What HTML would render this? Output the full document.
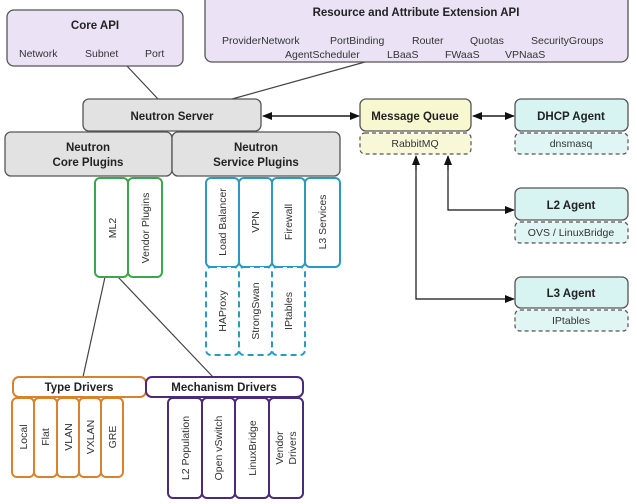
<!DOCTYPE html>
<html><head><style>
body{margin:0;background:#fff;}
svg{display:block;font-family:"Liberation Sans",Arial,sans-serif;}
.b{font-weight:bold;font-size:11.5px;fill:#222;}
.t{font-size:10.5px;fill:#333;}
.v{font-size:10.5px;fill:#333;}
</style></head><body>
<svg width="637" height="504" viewBox="0 0 637 504">
<defs><marker id="a" markerWidth="10" markerHeight="8" refX="9" refY="4" orient="auto" markerUnits="userSpaceOnUse"><path d="M0,0 L10,4 L0,8 z" fill="#111"/></marker></defs>
<!-- connectors -->
<line x1="127" y1="66" x2="158" y2="99" stroke="#444" stroke-width="1.2"/>
<line x1="365" y1="62" x2="232" y2="99" stroke="#444" stroke-width="1.2"/>
<line x1="105" y1="277" x2="83" y2="377" stroke="#444" stroke-width="1.2"/>
<line x1="118" y1="277" x2="213" y2="377" stroke="#444" stroke-width="1.2"/>
<line x1="272" y1="116" x2="359" y2="116" stroke="#111" stroke-width="1.2" marker-end="url(#a)"/>
<line x1="350" y1="116" x2="263" y2="116" stroke="#111" stroke-width="1.2" marker-end="url(#a)"/>
<line x1="480" y1="116" x2="514" y2="116" stroke="#111" stroke-width="1.2" marker-end="url(#a)"/>
<line x1="505" y1="116" x2="473" y2="116" stroke="#111" stroke-width="1.2" marker-end="url(#a)"/>
<polyline points="448,165 448,210 514,210" fill="none" stroke="#111" stroke-width="1.2" marker-end="url(#a)"/>
<line x1="448" y1="170" x2="448" y2="156" stroke="#111" stroke-width="1.2" marker-end="url(#a)"/>
<polyline points="416,165 416,299 514,299" fill="none" stroke="#111" stroke-width="1.2" marker-end="url(#a)"/>
<line x1="416" y1="170" x2="416" y2="156" stroke="#111" stroke-width="1.2" marker-end="url(#a)"/>
<!-- Core API -->
<rect x="7" y="10" width="176" height="56" rx="7" fill="#ebe3f5" stroke="#555" stroke-width="1.3"/>
<text x="95" y="29" class="b" text-anchor="middle">Core API</text>
<text x="19" y="57" class="t">Network</text><text x="85" y="57" class="t">Subnet</text><text x="145" y="57" class="t">Port</text>
<!-- Resource -->
<rect x="205" y="-6" width="423" height="68" rx="7" fill="#ebe3f5" stroke="#555" stroke-width="1.3"/>
<text x="416" y="16" class="b" text-anchor="middle">Resource and Attribute Extension API</text>
<text x="222" y="44" class="t">ProviderNetwork</text><text x="330" y="44" class="t">PortBinding</text><text x="412" y="44" class="t">Router</text><text x="470" y="44" class="t">Quotas</text><text x="531" y="44" class="t">SecurityGroups</text>
<text x="285" y="58" class="t">AgentScheduler</text><text x="387" y="58" class="t">LBaaS</text><text x="445" y="58" class="t">FWaaS</text><text x="505" y="58" class="t">VPNaaS</text>
<!-- Neutron server & plugins -->
<rect x="83" y="99" width="178" height="32" rx="6" fill="#e2e2e2" stroke="#555" stroke-width="1.3"/>
<text x="172" y="120" class="b" text-anchor="middle">Neutron Server</text>
<rect x="5" y="132" width="167" height="44" rx="6" fill="#e2e2e2" stroke="#555" stroke-width="1.3"/>
<text x="88" y="151" class="b" text-anchor="middle">Neutron</text><text x="88" y="166" class="b" text-anchor="middle">Core Plugins</text>
<rect x="172" y="132" width="168" height="44" rx="6" fill="#e2e2e2" stroke="#555" stroke-width="1.3"/>
<text x="256" y="151" class="b" text-anchor="middle">Neutron</text><text x="256" y="166" class="b" text-anchor="middle">Service Plugins</text>
<!-- green -->
<g fill="#fff" stroke="#3aa84a" stroke-width="2">
<rect x="95" y="178" width="33" height="99" rx="5"/><rect x="128" y="178" width="34" height="99" rx="5"/></g>
<text transform="translate(116,228) rotate(-90)" class="v" text-anchor="middle">ML2</text>
<text transform="translate(149,228) rotate(-90)" class="v" text-anchor="middle">Vendor Plugins</text>
<!-- blue -->
<g fill="#fff" stroke="#2a9ac0" stroke-width="2">
<rect x="206" y="178" width="33" height="89" rx="5"/><rect x="239" y="178" width="33" height="89" rx="5"/><rect x="272" y="178" width="33" height="89" rx="5"/><rect x="305" y="178" width="35" height="89" rx="5"/></g>
<g fill="#fff" stroke="#2a9ac0" stroke-width="2" stroke-dasharray="6,4">
<rect x="206" y="267" width="33" height="88" rx="5"/><rect x="239" y="267" width="33" height="88" rx="5"/><rect x="272" y="267" width="33" height="88" rx="5"/></g>
<text transform="translate(226,222) rotate(-90)" class="v" text-anchor="middle">Load Balancer</text>
<text transform="translate(259,222) rotate(-90)" class="v" text-anchor="middle">VPN</text>
<text transform="translate(292,222) rotate(-90)" class="v" text-anchor="middle">Firewall</text>
<text transform="translate(326,222) rotate(-90)" class="v" text-anchor="middle">L3 Services</text>
<text transform="translate(226,311) rotate(-90)" class="v" text-anchor="middle">HAProxy</text>
<text transform="translate(259,311) rotate(-90)" class="v" text-anchor="middle">StrongSwan</text>
<text transform="translate(292,311) rotate(-90)" class="v" text-anchor="middle">IPtables</text>
<!-- type drivers -->
<rect x="13" y="377" width="133" height="20" rx="6" fill="#fff" stroke="#d9822b" stroke-width="2"/>
<text x="79" y="391" class="b" text-anchor="middle">Type Drivers</text>
<g fill="#fff" stroke="#d9822b" stroke-width="2">
<rect x="12" y="398" width="22" height="79" rx="5"/><rect x="34" y="398" width="23" height="79" rx="5"/><rect x="57" y="398" width="22" height="79" rx="5"/><rect x="79" y="398" width="22" height="79" rx="5"/><rect x="101" y="398" width="22" height="79" rx="5"/></g>
<text transform="translate(27,437) rotate(-90)" class="v" text-anchor="middle">Local</text>
<text transform="translate(49,437) rotate(-90)" class="v" text-anchor="middle">Flat</text>
<text transform="translate(72,437) rotate(-90)" class="v" text-anchor="middle">VLAN</text>
<text transform="translate(94,437) rotate(-90)" class="v" text-anchor="middle">VXLAN</text>
<text transform="translate(116,437) rotate(-90)" class="v" text-anchor="middle">GRE</text>
<!-- mechanism -->
<rect x="146" y="377" width="157" height="20" rx="6" fill="#fff" stroke="#4b2a7a" stroke-width="2"/>
<text x="224" y="391" class="b" text-anchor="middle">Mechanism Drivers</text>
<g fill="#fff" stroke="#4b2a7a" stroke-width="2">
<rect x="168" y="398" width="34" height="100" rx="5"/><rect x="202" y="398" width="33" height="100" rx="5"/><rect x="235" y="398" width="34" height="100" rx="5"/><rect x="269" y="398" width="34" height="100" rx="5"/></g>
<text transform="translate(189,448) rotate(-90)" class="v" text-anchor="middle">L2 Population</text>
<text transform="translate(222,448) rotate(-90)" class="v" text-anchor="middle">Open vSwitch</text>
<text transform="translate(256,448) rotate(-90)" class="v" text-anchor="middle">LinuxBridge</text>
<text transform="translate(283,448) rotate(-90)" class="v" text-anchor="middle">Vendor</text>
<text transform="translate(296,448) rotate(-90)" class="v" text-anchor="middle">Drivers</text>
<!-- MQ -->
<rect x="360" y="99" width="111" height="32" rx="6" fill="#f8f8d0" stroke="#555" stroke-width="1.3"/>
<text x="415" y="120" class="b" text-anchor="middle">Message Queue</text>
<rect x="360" y="133" width="111" height="21" rx="5" fill="#f8f8d8" stroke="#555" stroke-width="1.2" stroke-dasharray="4,3"/>
<text x="415" y="147" class="t" text-anchor="middle">RabbitMQ</text>
<!-- agents -->
<g fill="#d8f4f2" stroke="#555" stroke-width="1.3">
<rect x="515" y="99" width="113" height="32" rx="6"/><rect x="515" y="188" width="113" height="32" rx="6"/><rect x="515" y="277" width="113" height="31" rx="6"/></g>
<g fill="#e0f6f4" stroke="#555" stroke-width="1.2" stroke-dasharray="4,3">
<rect x="515" y="133" width="113" height="21" rx="5"/><rect x="515" y="222" width="113" height="21" rx="5"/><rect x="515" y="310" width="113" height="21" rx="5"/></g>
<text x="571" y="120" class="b" text-anchor="middle">DHCP Agent</text>
<text x="571" y="147" class="t" text-anchor="middle">dnsmasq</text>
<text x="571" y="209" class="b" text-anchor="middle">L2 Agent</text>
<text x="571" y="236" class="t" text-anchor="middle">OVS / LinuxBridge</text>
<text x="571" y="297" class="b" text-anchor="middle">L3 Agent</text>
<text x="571" y="324" class="t" text-anchor="middle">IPtables</text>
</svg>
</body></html>
